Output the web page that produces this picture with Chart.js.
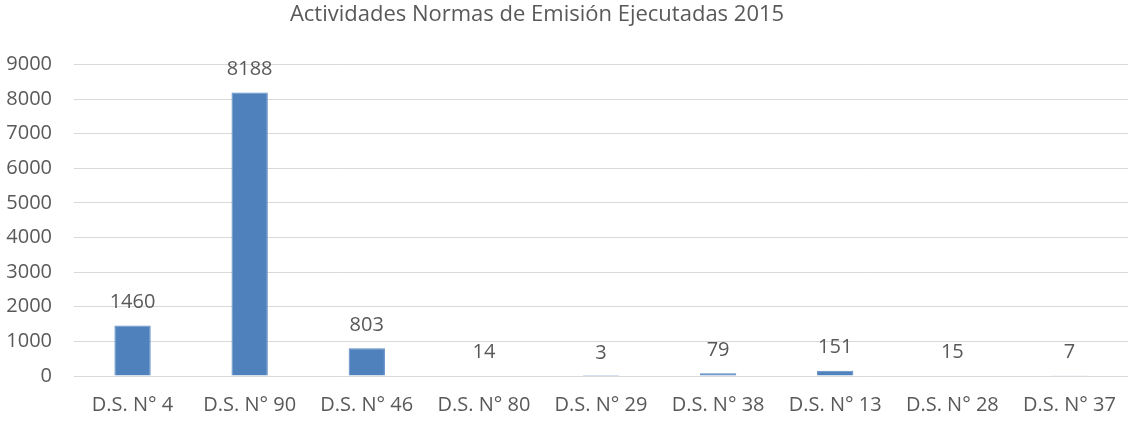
<!DOCTYPE html>
<html>
<head>
<meta charset="utf-8">
<script src="https://cdn.jsdelivr.net/npm/chart.js@4"></script>
<style>
  html, body { margin: 0; padding: 0; background: #fff; }
  #wrap { width: 1135px; height: 421px; }
</style>
</head>
<body>
<div id="wrap"><canvas id="emisionChart" width="1135" height="421"></canvas></div>
<script>
const categories = ["D.S. N° 4", "D.S. N° 90", "D.S. N° 46", "D.S. N° 80", "D.S. N° 29", "D.S. N° 38", "D.S. N° 13", "D.S. N° 28", "D.S. N° 37"];
const actividades = [1460, 8188, 803, 14, 3, 79, 151, 15, 7];
const yTicks = [0, 1000, 2000, 3000, 4000, 5000, 6000, 7000, 8000, 9000];

const FONT = "'Open Sans', sans-serif";
const TEXT = "#595959";

// simple value labels above the bars (no datalabels plugin offline)
const barLabels = {
  id: "barLabels",
  afterLayout(chart) {
    // title sits a bit left of the canvas centre in the original
    if (chart.titleBlock) {
      chart.titleBlock.left -= 30;
      chart.titleBlock.right -= 30;
    }
  },
  afterDatasetsDraw(chart) {
    const ctx = chart.ctx;
    const meta = chart.getDatasetMeta(0);
    ctx.save();
    ctx.font = "20px " + FONT;
    ctx.fillStyle = TEXT;
    ctx.textAlign = "center";
    ctx.textBaseline = "middle";
    meta.data.forEach((bar, i) => {
      ctx.fillText(String(actividades[i]), bar.x, bar.y - 23);
    });
    ctx.restore();
  }
};

new Chart(document.getElementById("emisionChart"), {
  type: "bar",
  data: {
    labels: categories,
    datasets: [{
      label: "Actividades",
      data: actividades,
      backgroundColor: "#4f81bd",
      borderColor: "#5a8ac4",
      borderWidth: 1,
      categoryPercentage: 1,
      barPercentage: 0.31
    }]
  },
  options: {
    responsive: false,
    animation: false,
    layout: { padding: { left: 6, right: 7, top: 0, bottom: 4 } },
    scales: {
      x: {
        afterFit: (s) => { s.height = 41; },
        grid: { display: false, drawTicks: false },
        border: { display: false },
        ticks: { color: TEXT, font: { family: FONT, size: 20 }, padding: 17, maxRotation: 0 }
      },
      y: {
        min: 0,
        max: 9000,
        afterFit: (s) => { s.width = 68; },
        afterBuildTicks: (axis) => { axis.ticks = yTicks.map(v => ({ value: v })); },
        grid: { color: "#d9d9d9", lineWidth: 1, drawTicks: false },
        border: { display: false },
        ticks: {
          color: TEXT,
          font: { family: FONT, size: 20 },
          padding: 22,
          callback: (v) => String(v)
        }
      }
    },
    plugins: {
      legend: { display: false },
      tooltip: { enabled: false },
      title: {
        display: true,
        text: "Actividades Normas de Emisión Ejecutadas 2015",
        color: TEXT,
        font: { family: FONT, size: 22, weight: "normal" },
        padding: { top: 2, bottom: 36 }
      }
    }
  },
  plugins: [barLabels]
});
</script>
</body>
</html>
